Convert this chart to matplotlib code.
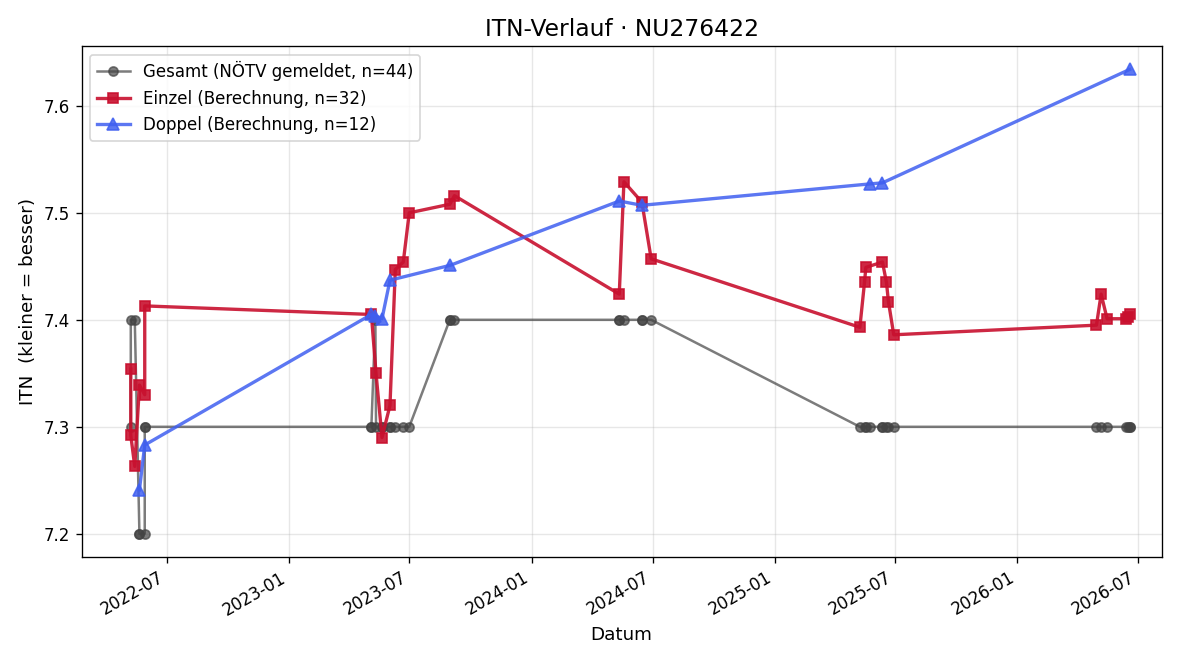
import pandas as pd
import matplotlib
matplotlib.use("Agg")
import matplotlib.pyplot as plt

# --- Daten ---
gesamt_dates = [
    "2022-05-08", "2022-05-08", "2022-05-14", "2022-05-21", "2022-05-21",
    "2022-05-29", "2022-05-29", "2022-05-29",
    "2023-05-05", "2023-05-05", "2023-05-11", "2023-05-12", "2023-05-21",
    "2023-05-21", "2023-06-02", "2023-06-02", "2023-06-10", "2023-06-22",
    "2023-07-01", "2023-08-31", "2023-09-01", "2023-09-07",
    "2024-05-12", "2024-05-12", "2024-05-19", "2024-06-15", "2024-06-15",
    "2024-06-29",
    "2025-05-09", "2025-05-16", "2025-05-18", "2025-05-24", "2025-06-12",
    "2025-06-12", "2025-06-18", "2025-06-21", "2025-06-29",
    "2026-04-30", "2026-05-07", "2026-05-16", "2026-06-13", "2026-06-16",
    "2026-06-19", "2026-06-20",
]
gesamt_itn = [
    7.3, 7.4, 7.4, 7.2, 7.2, 7.2, 7.3, 7.3,
    7.3, 7.3, 7.4, 7.3, 7.3, 7.3, 7.3, 7.3, 7.3, 7.3, 7.3, 7.4, 7.4, 7.4,
    7.4, 7.4, 7.4, 7.4, 7.4, 7.4,
    7.3, 7.3, 7.3, 7.3, 7.3, 7.3, 7.3, 7.3, 7.3,
    7.3, 7.3, 7.3, 7.3, 7.3, 7.3, 7.3,
]

einzel_dates = [
    "2022-05-08", "2022-05-08", "2022-05-14", "2022-05-21", "2022-05-29",
    "2022-05-29",
    "2023-05-05", "2023-05-12", "2023-05-21", "2023-06-02", "2023-06-10",
    "2023-06-22", "2023-07-01", "2023-08-31", "2023-09-07",
    "2024-05-12", "2024-05-19", "2024-06-15", "2024-06-29",
    "2025-05-09", "2025-05-16", "2025-05-18", "2025-06-12", "2025-06-18",
    "2025-06-21", "2025-06-29",
    "2026-04-30", "2026-05-07", "2026-05-16", "2026-06-13", "2026-06-16",
    "2026-06-20",
]
einzel_itn = [
    7.354, 7.292, 7.263, 7.339, 7.330, 7.413,
    7.405, 7.350, 7.290, 7.320, 7.447, 7.454, 7.500, 7.508, 7.516,
    7.424, 7.529, 7.510, 7.457,
    7.393, 7.435, 7.449, 7.454, 7.435, 7.417, 7.386,
    7.395, 7.424, 7.401, 7.401, 7.403, 7.405,
]

doppel_dates = [
    "2022-05-21", "2022-05-29",
    "2023-05-05", "2023-05-11", "2023-05-21", "2023-06-02", "2023-09-01",
    "2024-05-12", "2024-06-15",
    "2025-05-24", "2025-06-12",
    "2026-06-19",
]
doppel_itn = [
    7.241, 7.283,
    7.405, 7.404, 7.401, 7.437, 7.451,
    7.511, 7.507,
    7.527, 7.528,
    7.634,
]

# --- Plot ---
fig, ax = plt.subplots(figsize=(10, 5.5), dpi=120)

ax.plot(pd.to_datetime(gesamt_dates), gesamt_itn, marker="o", markersize=5.5,
        linewidth=1.5, color="#444444", alpha=0.7,
        label=f"Gesamt (NÖTV gemeldet, n={len(gesamt_itn)})")
ax.plot(pd.to_datetime(einzel_dates), einzel_itn, marker="s", markersize=6.5,
        linewidth=2, color="#c8102e", alpha=0.9,
        label=f"Einzel (Berechnung, n={len(einzel_itn)})")
ax.plot(pd.to_datetime(doppel_dates), doppel_itn, marker="^", markersize=7,
        linewidth=2, color="#3f5ff0", alpha=0.85,
        label=f"Doppel (Berechnung, n={len(doppel_itn)})")

ax.set_xlim(pd.Timestamp("2022-02-23"), pd.Timestamp("2026-08-06"))
ax.set_title("ITN-Verlauf · NU276422", fontsize=14)
ax.set_xlabel("Datum", fontsize=11)
ax.set_ylabel("ITN  (kleiner = besser)", fontsize=11)
ax.grid(True, alpha=0.3)
ax.legend(loc="upper left")
fig.autofmt_xdate()

fig.subplots_adjust(left=0.068, right=0.968, top=0.93, bottom=0.156)
fig.savefig("out.png", dpi=120)
